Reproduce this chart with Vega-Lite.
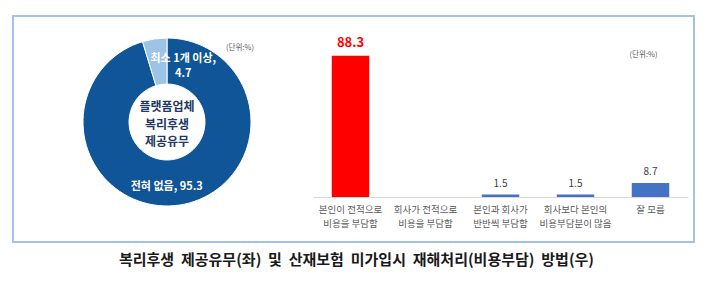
{
  "$schema": "https://vega.github.io/schema/vega-lite/v6.json",
  "width": 681,
  "height": 226,
  "autosize": "none",
  "padding": {"left": 13, "top": 16, "right": 16, "bottom": 42},
  "background": "white",
  "config": {
    "view": {"stroke": "#A4C2E6", "strokeWidth": 2},
    "font": "Noto Sans CJK KR",
    "text": {"font": "Noto Sans CJK KR"},
    "title": {"font": "Noto Sans CJK KR"}
  },
  "title": {
    "text": "복리후생 \u00a0제공유무(좌) \u00a0및 \u00a0산재보험 \u00a0미가입시 \u00a0재해처리(비용부담) \u00a0방법(우)",
    "orient": "bottom",
    "anchor": "middle",
    "fontSize": 15,
    "fontWeight": "bold",
    "color": "#1a1a1a",
    "offset": 11,
    "dx": 3
  },
  "datasets": {
    "donut": [
      {"k": "전혀 없음", "v": 95.3, "label": "전혀 없음, 95.3"},
      {"k": "최소 1개 이상", "v": 4.7, "label": "최소 1개 이상,\n4.7"}
    ],
    "center": [{"t": "플랫폼업체\n복리후생\n제공유무"}],
    "unit": [{"t": "(단위:%)"}],
    "bars": [
      {"cat": "본인이 전적으로\n비용을 부담함", "value": 88.3},
      {"cat": "회사가 전적으로\n비용을 부담함", "value": 0},
      {"cat": "본인과 회사가\n반반씩 부담함", "value": 1.5},
      {"cat": "회사보다 본인의\n비용부담분이 많음", "value": 1.5},
      {"cat": "잘 모름", "value": 8.7}
    ]
  },
  "layer": [
    {
      "data": {"name": "donut"},
      "mark": {"type": "arc", "innerRadius": 38, "outerRadius": 84, "stroke": "#ffffff", "strokeWidth": 1},
      "encoding": {
        "x": {"value": 154},
        "y": {"value": 106},
        "theta": {"field": "v", "type": "quantitative", "stack": true},
        "color": {
          "field": "k", "type": "nominal",
          "scale": {"domain": ["전혀 없음", "최소 1개 이상"], "range": ["#0F5597", "#9DC3E6"]},
          "legend": null
        }
      }
    },
    {
      "data": {"name": "donut"},
      "mark": {
        "type": "text", "color": "#ffffff", "fontWeight": "bold", "fontSize": 11,
        "lineBreak": "\n", "lineHeight": 15, "baseline": "middle", "align": "center",
        "dx": {"expr": "datum.k === '최소 1개 이상' ? 26 : -10"},
        "dy": {"expr": "datum.k === '최소 1개 이상' ? 2 : 0"}
      },
      "encoding": {
        "x": {"value": 154},
        "y": {"value": 106},
        "theta": {"field": "v", "type": "quantitative", "stack": true},
        "radius": {"value": 66},
        "text": {"field": "label"}
      }
    },
    {
      "data": {"name": "center"},
      "mark": {
        "type": "text", "color": "#1F3864", "fontWeight": "bold", "fontSize": 12,
        "lineBreak": "\n", "lineHeight": 17.5, "baseline": "middle", "align": "center"
      },
      "encoding": {
        "x": {"value": 154},
        "y": {"value": 91},
        "text": {"field": "t"}
      }
    },
    {
      "data": {"name": "unit"},
      "mark": {"type": "text", "color": "#595959", "fontSize": 7.5, "align": "center", "baseline": "middle"},
      "encoding": {
        "x": {"value": 227},
        "y": {"value": 32},
        "text": {"field": "t"}
      }
    },
    {
      "data": {"name": "bars"},
      "mark": {"type": "bar"},
      "encoding": {
        "x": {
          "field": "cat", "type": "nominal", "sort": null,
          "scale": {"range": [300, 675], "paddingInner": 0.5, "paddingOuter": 0.25},
          "axis": {
            "title": null, "offset": -45, "domainColor": "#D9D9D9", "domainWidth": 1,
            "ticks": false, "labelFontSize": 9.5, "labelColor": "#595959", "labelPadding": 7,
            "labelExpr": "split(datum.value, '\\n')", "labelLineHeight": 14,
            "labelAngle": 0, "labelOverlap": false, "labelBaseline": "top"
          }
        },
        "y": {
          "field": "value", "type": "quantitative",
          "scale": {"domain": [0, 88.3], "range": [181, 37]},
          "axis": null
        },
        "color": {
          "condition": {"test": "datum.value > 50", "value": "#FF0000"},
          "value": "#4472C4"
        }
      }
    },
    {
      "data": {"name": "bars"},
      "transform": [{"filter": "datum.value > 50"}],
      "mark": {"type": "text", "color": "#FF0000", "fontWeight": "bold", "fontSize": 13, "baseline": "bottom", "dy": -6},
      "encoding": {
        "x": {"field": "cat", "type": "nominal", "sort": null},
        "y": {"field": "value", "type": "quantitative", "scale": {"domain": [0, 88.3], "range": [181, 37]}},
        "text": {"field": "value", "type": "quantitative", "format": ".1f"}
      }
    },
    {
      "data": {"name": "bars"},
      "transform": [{"filter": "datum.value > 0 && datum.value < 50"}],
      "mark": {"type": "text", "color": "#404040", "fontSize": 10, "baseline": "bottom", "dy": -6},
      "encoding": {
        "x": {"field": "cat", "type": "nominal", "sort": null},
        "y": {"field": "value", "type": "quantitative", "scale": {"domain": [0, 88.3], "range": [181, 37]}},
        "text": {"field": "value", "type": "quantitative", "format": ".1f"}
      }
    },
    {
      "data": {"name": "unit"},
      "mark": {"type": "text", "color": "#595959", "fontSize": 7.5, "align": "center", "baseline": "middle", "dx": -7},
      "encoding": {
        "x": {"datum": "잘 모름", "type": "nominal"},
        "y": {"datum": 89, "type": "quantitative"},
        "text": {"field": "t"}
      }
    }
  ]
}
